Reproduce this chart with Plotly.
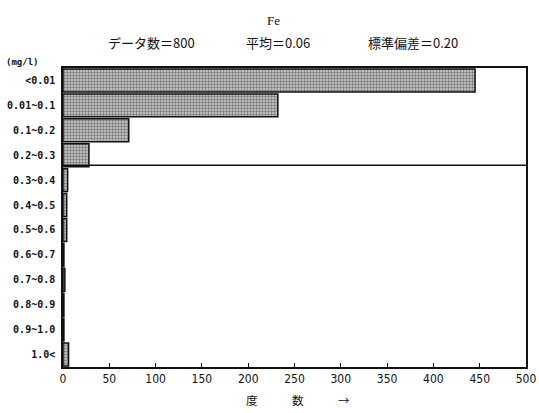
import plotly.graph_objects as go

# Fe concentration classes (mg/l) and number of samples in each
categories = ["<0.01", "0.01~0.1", "0.1~0.2", "0.2~0.3", "0.3~0.4", "0.4~0.5",
              "0.5~0.6", "0.6~0.7", "0.7~0.8", "0.8~0.9", "0.9~1.0", "1.0<"]
counts = [445, 232, 71, 28, 5, 4, 4, 1, 2, 1, 1, 6]
x_ticks = [0, 50, 100, 150, 200, 250, 300, 350, 400, 450, 500]

title_text = "Fe"
stats_texts = ["データ数＝800", "平均＝0.06", "標準偏差＝0.20"]
stats_x = [0.192, 0.464, 0.756]
unit_text = "(mg/l)"
x_title = "度　　　数　　　→"

fig = go.Figure(go.Bar(
    x=counts,
    y=categories,
    orientation="h",
    marker=dict(
        color="#c0c0c0",
        line=dict(color="#111", width=1.5),
        pattern=dict(shape=".", fgcolor="#222", bgcolor="#cfcfcf", size=3, solidity=0.5),
    ),
    showlegend=False,
))

annotations = [
    dict(text=title_text, xref="paper", yref="paper", x=0.454, y=1.16,
         xanchor="center", yanchor="middle", showarrow=False,
         font=dict(family="Liberation Serif", size=13, color="#111")),
    dict(text=unit_text, xref="paper", yref="paper", x=-0.128, y=1.02,
         xanchor="left", yanchor="middle", showarrow=False,
         font=dict(family="DejaVu Sans Mono", size=9, color="#111", weight="bold")),
    dict(text=x_title, xref="paper", yref="paper", x=0.507, y=-0.11,
         xanchor="center", yanchor="middle", showarrow=False,
         font=dict(family="Noto Sans CJK JP", size=11.5, color="#111")),
]
for txt, xp in zip(stats_texts, stats_x):
    annotations.append(dict(text=txt, xref="paper", yref="paper", x=xp, y=1.084,
                            xanchor="center", yanchor="middle", showarrow=False,
                            font=dict(family="Noto Sans CJK JP", size=13, color="#111")))

fig.update_layout(
    width=539, height=413,
    margin=dict(l=63, r=13, t=68, b=46),
    paper_bgcolor="white", plot_bgcolor="white",
    bargap=0.08,
    xaxis=dict(
        range=[0, 500], tickvals=x_ticks, ticktext=[str(v) for v in x_ticks],
        ticks="inside", ticklen=4, tickcolor="#111",
        showline=True, linecolor="#111", linewidth=1.5, mirror=True,
        showgrid=False, zeroline=False, automargin=False, ticklabeloverflow="allow",
        tickfont=dict(family="Liberation Sans Narrow, DejaVu Sans Condensed", size=12, color="#111"),
    ),
    yaxis=dict(
        categoryorder="array", categoryarray=categories, autorange="reversed",
        showline=True, linecolor="#111", linewidth=1.5, mirror=True,
        showgrid=False, ticks="", ticklabelstandoff=4, automargin=False,
        tickfont=dict(family="DejaVu Sans Mono", size=10, color="#111", weight="bold"),
    ),
    font=dict(family="Noto Sans CJK JP", color="#111"),
    shapes=[dict(type="line", xref="paper", x0=0, x1=1, yref="y", y0=3.4, y1=3.4,
                 line=dict(color="#111", width=1.5))],
    annotations=annotations,
)

fig.write_html("out.html")
